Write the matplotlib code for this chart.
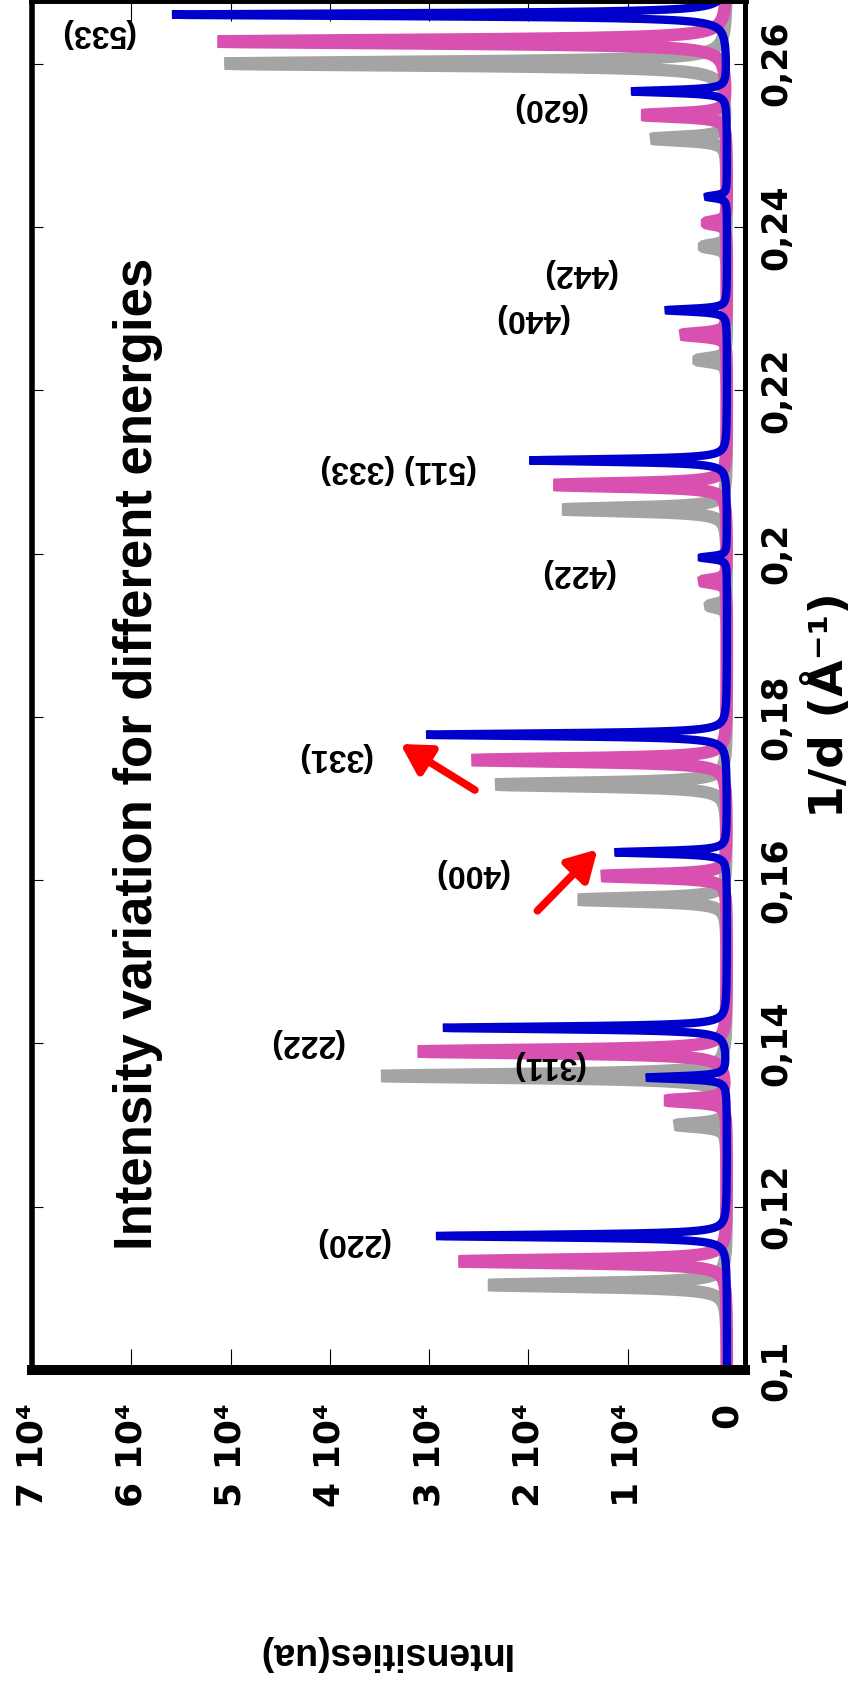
import numpy as np
import matplotlib
matplotlib.use("Agg")
import matplotlib.pyplot as plt

plt.rcParams['font.family'] = ['Liberation Sans', 'DejaVu Sans']
plt.rcParams['font.weight'] = 'bold'

# reflections, in order of increasing 1/d
hkl = ['(220)', '(311)', '(222)', '(400)', '(331)', '(422)', '(511) (333)',
       '(440)', '(442)', '(620)', '(533)']

# peak positions (1/d, A^-1) and heights for the three energies
gray_pos = [0.1104, 0.1300, 0.1360, 0.1576, 0.1717, 0.1936, 0.2054, 0.2237, 0.2376, 0.2508, 0.2600]
gray_int = [2.40e4, 0.50e4, 3.48e4, 1.49e4, 2.33e4, 0.18e4, 1.65e4, 0.30e4, 0.24e4, 0.75e4, 5.06e4]
pink_pos = [0.1133, 0.1330, 0.1390, 0.1605, 0.1747, 0.1966, 0.2084, 0.2268, 0.2405, 0.2537, 0.2627]
pink_int = [2.70e4, 0.60e4, 3.11e4, 1.26e4, 2.57e4, 0.25e4, 1.74e4, 0.45e4, 0.21e4, 0.84e4, 5.13e4]
blue_pos = [0.1164, 0.1358, 0.1419, 0.1634, 0.1778, 0.1995, 0.2114, 0.2298, 0.2437, 0.2566, 0.2660]
blue_int = [2.93e4, 0.81e4, 2.86e4, 1.13e4, 3.03e4, 0.27e4, 1.99e4, 0.62e4, 0.21e4, 0.96e4, 5.59e4]

# where the hkl labels sit
label_int = [3.78e4, 1.80e4, 4.24e4, 2.58e4, 3.96e4, 1.51e4, 3.31e4, 1.98e4, 1.49e4, 1.79e4, 6.35e4]
label_pos = [0.1157, 0.1373, 0.1400, 0.1609, 0.1751, 0.1976, 0.2104, 0.2289, 0.2344, 0.2547, 0.2637]

xticks = [0.10, 0.12, 0.14, 0.16, 0.18, 0.20, 0.22, 0.24, 0.26]
xtick_labels = ['0,1', '0,12', '0,14', '0,16', '0,18', '0,2', '0,22', '0,24', '0,26']
yticks = [0, 1e4, 2e4, 3e4, 4e4, 5e4, 6e4, 7e4]
ytick_labels = ['0'] + ['%d 10⁴' % k for k in range(1, 8)]


def pattern(q, pos, amp, hwhm):
    out = np.zeros_like(q)
    for c, a in zip(pos, amp):
        out += a / (1.0 + ((q - c) / hwhm) ** 2)
    return out


q = np.arange(0.0985, 0.2685, 0.00002)

fig = plt.figure(figsize=(8.61, 16.84), dpi=100)
ax = fig.add_axes([0.0372, 0.1865, 0.8281, 0.8135])

# rotated layout: intensity runs right-to-left, 1/d runs upward
ax.plot(pattern(q, gray_pos, gray_int, 0.00030), q, color='#a4a4a4', lw=9,
        solid_joinstyle='bevel')
ax.plot(pattern(q, pink_pos, pink_int, 0.00028), q, color='#d850b0', lw=9,
        solid_joinstyle='bevel')
ax.plot(pattern(q, blue_pos, blue_int, 0.00022), q, color='#0000cc', lw=6,
        solid_joinstyle='bevel')

ax.set_xlim(7.0e4, -0.181e4)
ax.set_ylim(0.1, 0.2678)

for lab, xi, yi in zip(hkl, label_int, label_pos):
    ax.text(xi, yi, lab, rotation=180, ha='center', va='center',
            fontsize=23, fontweight='bold')

arrow = dict(arrowstyle='-|>,head_length=0.7,head_width=0.4', color='red',
             lw=5.5, mutation_scale=25, shrinkA=0, shrinkB=0)
ax.annotate('', xy=(3.29e4, 0.17667), xytext=(2.54e4, 0.17103), arrowprops=arrow)
ax.annotate('', xy=(1.305e4, 0.16376), xytext=(1.91e4, 0.15624), arrowprops=arrow)

ax.text(0.149, 0.4496, 'Intensity variation for different energies',
        transform=ax.transAxes, rotation=90, ha='center', va='center',
        fontsize=38, fontweight='bold')

ax.set_xticks(yticks)
ax.set_xticklabels(ytick_labels)
ax.set_yticks(xticks)
ax.set_yticklabels(xtick_labels)
ax.tick_params(axis='x', direction='in', length=15, width=0.8, top=True, bottom=True,
               labelrotation=90, pad=24, labelsize=26)
ax.tick_params(axis='y', direction='in', length=8, width=0.8, left=True, right=True,
               labelleft=False, labelright=True, labelrotation=90, pad=10, labelsize=25)
for t in ax.get_xticklabels():
    t.set_fontfamily('DejaVu Sans')
    t.set_rotation_mode('default')
    t.set_ha('center')
    t.set_va('top')
for t in ax.get_yticklabels():
    t.set_fontfamily('DejaVu Sans')
    t.set_rotation_mode('default')
    t.set_ha('left')
    t.set_va('center')

ax.set_xlabel('Intensities(ua)', rotation=180, fontsize=27, fontweight='bold',
              ha='center', va='center')
ax.xaxis.set_label_coords((383 - 32) / 713, (1370 - 1653) / 1370)
ax.yaxis.set_label_position('right')
ax.set_ylabel('1/d (Å⁻¹)', rotation=90, fontsize=34, fontweight='bold',
              family='DejaVu Sans', ha='center', va='center')
ax.yaxis.set_label_coords((828 - 32) / 713, (1370 - 705) / 1370)

ax.spines['left'].set_linewidth(4)
ax.spines['right'].set_linewidth(3.6)
ax.spines['bottom'].set_linewidth(7.2)
ax.spines['top'].set_linewidth(5)

fig.savefig('out.png', dpi=100)
